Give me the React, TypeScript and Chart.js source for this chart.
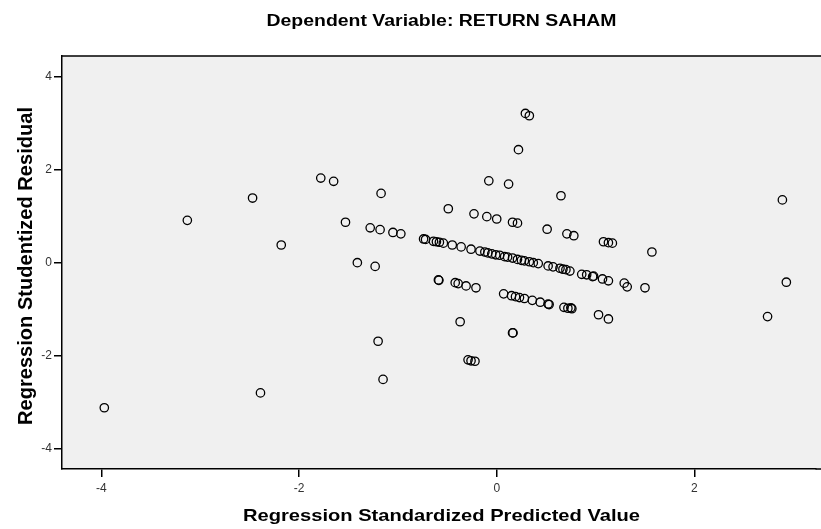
import React, { useEffect, useRef } from "react";
import { Chart, registerables } from "chart.js";

Chart.register(...registerables);

const chartTitle = "Dependent Variable: RETURN SAHAM";
const xAxisTitle = "Regression Standardized Predicted Value";
const yAxisTitle = "Regression Studentized Residual";

const xTickValues = [-4, -2, 0, 2];
const yTickValues = [-4, -2, 0, 2, 4];

// Regression standardized predicted values
const predicted = [
  -3.97, -3.13, -2.47, -2.39, -2.18, -1.78, -1.65, -1.53, -1.41, -1.28,
  -1.23, -1.2, -1.18, -1.17, -1.15, -1.05, -0.97, -0.49, -0.23, -0.1,
  -0.08, 0.0, 0.12, 0.16, 0.21, 0.22, 0.29, 0.33, 0.51, 0.65,
  0.71, 0.78, 1.08, 1.13, 1.17, 1.57, 2.74, 2.89, 2.93, -0.37,
  0.16, 0.165, -0.29, -0.26, -0.22,
  // lower band
  -0.59, -0.585, -0.42, -0.39, -0.31, -0.21, 0.07, 0.15, 0.19, 0.23,
  0.28, 0.36, 0.44, 0.52, 0.53, 0.68, 0.72, 0.75, 0.76, 1.03, 1.13,
  // upper band
  -0.74, -0.72, -0.64, -0.61, -0.58, -0.54, -0.45, -0.36, -0.26, -0.17,
  -0.12, -0.09, -0.05, -0.01, 0.03, 0.08, 0.11, 0.16, 0.21, 0.25,
  0.28, 0.33, 0.37, 0.42, 0.52, 0.57, 0.64, 0.67, 0.7, 0.74,
  0.86, 0.91, 0.97, 0.98, 1.07, 1.13, 1.29, 1.32, 1.5,
];

// Regression studentized residuals
const residual = [
  -3.12, 0.91, 1.39, -2.8, 0.38, 1.82, 1.75, 0.87, 0.0, 0.75,
  -0.08, -1.69, 0.71, 1.49, -2.51, 0.65, 0.62, 1.16, 1.05, 0.99,
  1.76, 0.94, 1.69, 0.87, 0.85, 2.43, 3.21, 3.16, 0.72, 1.44,
  0.62, 0.58, 0.45, 0.43, 0.42, 0.23, -1.16, 1.35, -0.42, -1.27,
  -1.51, -1.51, -2.09, -2.11, -2.12,
  // lower band
  -0.37, -0.38, -0.43, -0.45, -0.5, -0.54, -0.67, -0.71, -0.73, -0.75,
  -0.77, -0.81, -0.85, -0.89, -0.9, -0.96, -0.98, -0.97, -0.99, -1.12, -1.21,
  // upper band
  0.51, 0.5, 0.46, 0.45, 0.44, 0.42, 0.38, 0.34, 0.29, 0.25,
  0.23, 0.21, 0.19, 0.17, 0.16, 0.13, 0.12, 0.1, 0.07, 0.05,
  0.04, 0.02, 0.0, -0.02, -0.07, -0.09, -0.12, -0.14, -0.15, -0.18,
  -0.25, -0.26, -0.3, -0.29, -0.35, -0.39, -0.44, -0.52, -0.54,
];

const FONT = "'Liberation Sans', Arial, sans-serif";

function drawStretched(ctx: CanvasRenderingContext2D, text: string, font: string, x: number, y: number, targetWidth: number, angle = 0) {
  ctx.save();
  ctx.font = font;
  ctx.textAlign = "center";
  ctx.textBaseline = "alphabetic";
  const w = ctx.measureText(text).width;
  ctx.translate(x, y);
  if (angle) ctx.rotate(angle);
  ctx.scale(targetWidth / w, 1);
  ctx.fillText(text, 0, 0);
  ctx.restore();
}

export default function App() {
  const canvasRef = useRef<HTMLCanvasElement | null>(null);

  useEffect(() => {
    document.body.style.margin = "0";
    const canvas = canvasRef.current;
    if (!canvas) return;

    const points = predicted.map((x, i) => ({ x, y: residual[i] }));

    const decor = {
      id: "spssDecor",
      beforeDraw(chart: any) {
        const { ctx, chartArea } = chart;
        ctx.save();
        ctx.fillStyle = "#f0f0f0";
        ctx.fillRect(chartArea.left, chartArea.top, chart.width - chartArea.left, chartArea.bottom - chartArea.top);
        ctx.restore();
      },
      afterDraw(chart: any) {
        const { ctx, chartArea } = chart;
        ctx.save();
        ctx.strokeStyle = "#000";
        ctx.lineWidth = 1.5;
        ctx.beginPath();
        ctx.moveTo(chartArea.left, chartArea.top);
        ctx.lineTo(chart.width, chartArea.top);
        ctx.moveTo(chartArea.right, chartArea.bottom);
        ctx.lineTo(chart.width, chartArea.bottom);
        ctx.stroke();
        ctx.fillStyle = "#000";
        const cx = (chartArea.left + chart.width) / 2;
        drawStretched(ctx, chartTitle, `bold 16px ${FONT}`, cx, 26, 350);
        drawStretched(ctx, xAxisTitle, `bold 16.5px ${FONT}`, cx, 521, 397);
        drawStretched(ctx, yAxisTitle, `bold 21px ${FONT}`, 32, 266, 318, -Math.PI / 2);
        ctx.restore();
      },
    };

    const chart = new Chart(canvas, {
      type: "scatter",
      data: {
        datasets: [
          {
            data: points,
            pointStyle: "circle",
            pointRadius: 4.2,
            pointBorderWidth: 1.3,
            pointBorderColor: "#000",
            pointBackgroundColor: "rgba(0,0,0,0)",
          },
        ],
      },
      options: {
        animation: false,
        responsive: false,
        maintainAspectRatio: false,
        layout: { padding: { top: 56, right: 0, left: 0, bottom: 0 } },
        plugins: {
          legend: { display: false },
          tooltip: { enabled: false },
          title: { display: false },
        },
        scales: {
          x: {
            type: "linear",
            min: -4.398,
            max: 3.225,
            afterBuildTicks: (scale: any) => {
              scale.ticks = xTickValues.map((v) => ({ value: v }));
            },
            afterFit: (scale: any) => {
              scale.height = 60;
              scale.paddingLeft = 0;
              scale.paddingRight = 0;
            },
            grid: { display: true, drawOnChartArea: false, drawTicks: true, tickLength: 8, color: "#000", lineWidth: 1.5 },
            border: { display: true, color: "#000", width: 1.5 },
            ticks: { color: "#333", font: { family: FONT, size: 12 }, padding: 4, maxRotation: 0 },
          },
          y: {
            type: "linear",
            min: -4.437,
            max: 4.445,
            afterBuildTicks: (scale: any) => {
              scale.ticks = yTickValues.map((v) => ({ value: v }));
            },
            afterFit: (scale: any) => {
              scale.width = 62;
              scale.paddingTop = 0;
              scale.paddingBottom = 0;
            },
            grid: { display: true, drawOnChartArea: false, drawTicks: true, tickLength: 8, color: "#000", lineWidth: 1.5 },
            border: { display: true, color: "#000", width: 1.5 },
            ticks: { color: "#333", font: { family: FONT, size: 12 }, padding: 2 },
          },
        },
      },
      plugins: [decor],
    });

    return () => chart.destroy();
  }, []);

  return (
    <div style={{ width: 821, height: 529, position: "relative" }}>
      <canvas ref={canvasRef} width={821} height={529} style={{ display: "block", width: 821, height: 529 }} />
    </div>
  );
}
